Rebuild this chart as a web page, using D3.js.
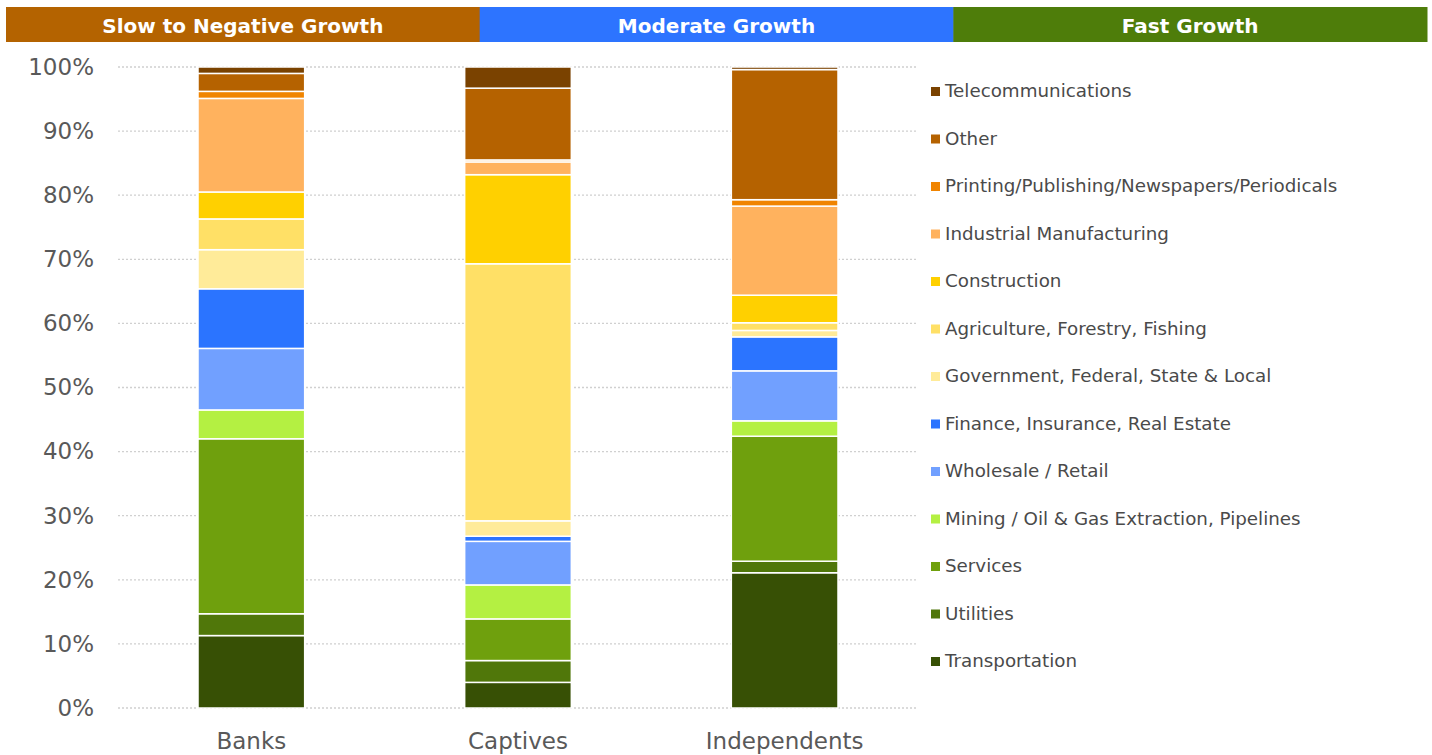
<!DOCTYPE html>
<html>
<head>
<meta charset="utf-8">
<script src="https://cdn.jsdelivr.net/npm/d3@7"></script>
<style>
  body { margin: 0; background: #fff; }
  svg { font-family: "DejaVu Sans", Verdana, sans-serif; }
</style>
</head>
<body>
<div id="chart"></div>
<script>
// categories and series (bottom of stack first)
var groups = ["Banks", "Captives", "Independents"]
var sectors = ["Transportation", "Utilities", "Services", "Mining / Oil & Gas Extraction, Pipelines",
  "Wholesale / Retail", "Finance, Insurance, Real Estate", "Government, Federal, State & Local",
  "Agriculture, Forestry, Fishing", "Construction", "Industrial Manufacturing",
  "Printing/Publishing/Newspapers/Periodicals", "Other", "Telecommunications"]
var banks        = [11.3, 3.4, 27.3, 4.5, 9.6, 9.3, 6.1, 4.8, 4.2, 14.6, 1.1, 2.8, 1.0]
var captives     = [4.0, 3.4, 6.5, 5.3, 6.8, 0.8, 2.4, 40.1, 13.9, 2.0, 0.3, 11.2, 3.3]
var independents = [21.1, 1.8, 19.5, 2.4, 7.8, 5.3, 1.0, 1.2, 4.3, 13.9, 1.0, 20.3, 0.4]
var colors = ["#375005", "#50770a", "#6fa00d", "#b4f042", "#71a0ff", "#2b74ff", "#ffeb99",
  "#ffe066", "#ffd000", "#ffb25e", "#f08400", "#b56200", "#7a4200"]
var bands = ["Slow to Negative Growth", "Moderate Growth", "Fast Growth"]
var bandColors = ["#b46300", "#2d74ff", "#4e7d0a"]
var yTicks = [0, 10, 20, 30, 40, 50, 60, 70, 80, 90, 100]

var width = 1432, height = 755

var svg = d3.select("#chart").append("svg")
    .attr("width", width)
    .attr("height", height)

// header bands
var hx = d3.scaleBand().domain(bands).range([6, 1427])
svg.selectAll("rect.band")
    .data(bands)
    .enter().append("rect")
    .attr("class", "band")
    .attr("x", function(d) { return hx(d) })
    .attr("y", 7)
    .attr("width", hx.bandwidth() + 0.5)
    .attr("height", 35)
    .style("fill", function(d, i) { return bandColors[i] })
svg.selectAll("text.band")
    .data(bands)
    .enter().append("text")
    .attr("class", "band")
    .attr("x", function(d) { return hx(d) + hx.bandwidth()/2 })
    .attr("y", 33)
    .attr("text-anchor", "middle")
    .style("fill", "#fff")
    .style("font-weight", "bold")
    .style("font-size", "20px")
    .text(function(d) { return d })

// scales
var x = d3.scaleBand().domain(groups).range([118, 918]).paddingInner(0.6).paddingOuter(0.3)
var y = d3.scaleLinear().domain([0, 100]).range([708, 67])

// gridlines
svg.append("g")
    .selectAll("line")
    .data(yTicks)
    .enter().append("line")
    .attr("x1", 118).attr("x2", 918)
    .attr("y1", function(d) { return y(d) })
    .attr("y2", function(d) { return y(d) })
    .style("stroke", "#d0d0d0")
    .style("stroke-width", 1.3)
    .style("stroke-dasharray", "2,2")

// y axis labels
var yAxis = svg.append("g")
    .attr("transform", "translate(96,0)")
    .call(d3.axisLeft(y).tickValues(yTicks).tickSize(0).tickFormat(function(d) { return d + "%" }))
yAxis.select(".domain").remove()
yAxis.selectAll("text")
    .attr("x", -2)
    .style("font-family", "DejaVu Sans, Verdana, sans-serif")
    .style("font-size", "23px")
    .style("fill", "#595959")

// x axis labels
var xAxis = svg.append("g")
    .attr("transform", "translate(0,722)")
    .call(d3.axisBottom(x).tickSize(0))
xAxis.select(".domain").remove()
xAxis.selectAll("text")
    .attr("dy", "1.05em")
    .style("font-family", "DejaVu Sans, Verdana, sans-serif")
    .style("font-size", "23px")
    .style("fill", "#595959")

// stacked bars
var table = groups.map(function(g, gi) {
  var vals = [banks, captives, independents][gi]
  var row = { group: g }
  sectors.forEach(function(s, si) { row[s] = vals[si] })
  return row
})
var series = d3.stack().keys(sectors)(table)

svg.append("g")
    .selectAll("g")
    .data(series)
    .enter().append("g")
    .style("fill", function(d, i) { return colors[i] })
    .selectAll("rect")
    .data(function(d) { return d })
    .enter().append("rect")
    .attr("x", function(d) { return x(d.data.group) })
    .attr("width", x.bandwidth())
    .attr("y", function(d) { return y(d[1]) })
    .attr("height", function(d) { return y(d[0]) - y(d[1]) })
    .style("stroke", "#fff")
    .style("stroke-width", 1.5)

// legend (top item = last series)
var legendItems = sectors.slice().reverse()
var ly = d3.scalePoint().domain(legendItems).range([91, 661])
var legend = svg.append("g")
    .selectAll("g")
    .data(legendItems)
    .enter().append("g")
    .attr("transform", function(d) { return "translate(931," + ly(d) + ")" })
legend.append("rect")
    .attr("x", 0).attr("y", -4)
    .attr("width", 9).attr("height", 9)
    .style("fill", function(d) { return colors[sectors.indexOf(d)] })
legend.append("text")
    .attr("x", 14)
    .attr("y", 0)
    .attr("dy", "0.35em")
    .style("font-size", "18.3px")
    .style("fill", "#4a4a4a")
    .text(function(d) { return d })
</script>
</body>
</html>
